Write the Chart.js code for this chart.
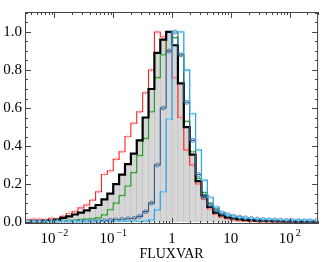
<!DOCTYPE html>
<html>
<head>
<meta charset="utf-8">
<script src="https://cdn.jsdelivr.net/npm/chart.js@4.4.1/dist/chart.umd.min.js"></script>
<style>
html,body{margin:0;padding:0;background:#fff;}
#wrap{width:323px;height:262px;}
</style>
</head>
<body>
<div id="wrap"><canvas id="c" width="323" height="262"></canvas></div>
<script>
// log10 of bin centres (bins of 0.1 dex)
const binCentersLog = [-2.45,-2.35,-2.25,-2.15,-2.05,-1.95,-1.85,-1.75,-1.65,-1.55,
  -1.45,-1.35,-1.25,-1.15,-1.05,-0.95,-0.85,-0.75,-0.65,-0.55,
  -0.45,-0.35,-0.25,-0.15,-0.05,0.05,0.15,0.25,0.35,0.45,
  0.55,0.65,0.75,0.85,0.95,1.05,1.15,1.25,1.35,1.45,
  1.55,1.65,1.75,1.85,1.95,2.05,2.15,2.25,2.35,2.45];

const redValues = [0.012,0.015,0.015,0.013,0.020,0.015,0.030,0.045,0.055,0.075,
  0.090,0.115,0.160,0.250,0.270,0.330,0.370,0.450,0.520,0.580,
  0.680,0.800,1.000,0.975,0.900,0.760,0.550,0.380,0.300,0.200,
  0.120,0.070,0.040,0.025,0.018,0.012,0.008,0.005,0.003,0.002,
  0.001,0.001,0.001,0.001,0.001,0.001,0.001,0.001,0.001,0.001];

const blackValues = [0.003,0.004,0.004,0.006,0.008,0.013,0.022,0.030,0.040,0.050,
  0.062,0.075,0.090,0.120,0.150,0.200,0.250,0.305,0.360,0.430,
  0.550,0.700,0.890,0.960,1.000,0.930,0.730,0.500,0.355,0.215,
  0.140,0.080,0.050,0.035,0.025,0.020,0.015,0.012,0.010,0.008,
  0.007,0.006,0.005,0.005,0.004,0.004,0.003,0.003,0.003,0.002];

const grayValues = blackValues;

const greenValues = [0.002,0.002,0.002,0.003,0.003,0.004,0.005,0.007,0.010,0.013,
  0.016,0.018,0.022,0.038,0.065,0.100,0.140,0.190,0.260,0.350,
  0.440,0.580,0.760,0.880,1.000,0.970,0.880,0.530,0.370,0.230,
  0.155,0.100,0.070,0.048,0.036,0.028,0.022,0.017,0.014,0.012,
  0.010,0.009,0.008,0.007,0.006,0.005,0.005,0.004,0.004,0.003];

const navyValues = [0.003,0.003,0.003,0.003,0.003,0.003,0.003,0.003,0.003,0.004,
  0.004,0.005,0.006,0.008,0.010,0.012,0.015,0.018,0.020,0.030,
  0.055,0.100,0.300,0.600,0.900,1.000,0.880,0.630,0.430,0.250,
  0.130,0.090,0.063,0.047,0.038,0.030,0.026,0.022,0.019,0.016,
  0.014,0.012,0.011,0.010,0.009,0.008,0.008,0.007,0.007,0.006];

const cyanValues = [0.004,0.004,0.004,0.004,0.004,0.004,0.004,0.004,0.004,0.004,
  0.004,0.004,0.004,0.004,0.004,0.004,0.004,0.004,0.004,0.004,
  0.005,0.012,0.065,0.160,0.540,1.000,1.000,0.800,0.570,0.380,
  0.220,0.130,0.080,0.052,0.038,0.030,0.026,0.023,0.020,0.018,
  0.016,0.015,0.014,0.013,0.012,0.012,0.011,0.011,0.010,0.010];

const xTickDecades = [-2,-1,0,1,2];
const xTickLabels = [["10","\u22122"],["10","\u22121"],["1",""],["10",""],["10","2"]];
const yTickValues = [0,0.2,0.4,0.6,0.8,1.0];

const pts = arr => arr.map((v,i)=>({x: Math.pow(10, binCentersLog[i]), y: v}));

function lineDs(values, color, width, style, ptColor, radius, order){
  return {
    type:'line', data: pts(values), borderColor: color, borderWidth: width,
    stepped:'middle', fill:false, tension:0,
    pointStyle: style || 'circle', pointRadius: style ? radius : 0,
    pointBorderColor: ptColor || color, pointBackgroundColor: 'rgba(0,0,0,0)',
    pointBorderWidth: 0.9, order: order
  };
}

const serif = "'Liberation Serif','Times New Roman',serif";

const axesPlugin = {
  id:'axesPlugin',
  afterDraw(chart){
    const ctx = chart.ctx, a = chart.chartArea;
    const xs = chart.scales.x, ys = chart.scales.y;
    ctx.save();
    ctx.strokeStyle = '#444';
    ctx.lineWidth = 1;
    ctx.strokeRect(a.left+0.5, a.top+0.5, a.right-a.left-1, a.bottom-a.top-1);
    ctx.beginPath();
    for (let d=-3; d<=2; d++){
      for (let k=1;k<=9;k++){
        const v = k*Math.pow(10,d);
        if (v < xs.min || v > xs.max) continue;
        const px = Math.round(xs.getPixelForValue(v))+0.5;
        const len = k===1 ? 6 : 3;
        ctx.moveTo(px, a.bottom); ctx.lineTo(px, a.bottom-len);
        ctx.moveTo(px, a.top); ctx.lineTo(px, a.top+len);
      }
    }
    for (let j=0;j<=22;j++){
      const v = j*0.05;
      if (v > ys.max) continue;
      const py = Math.round(ys.getPixelForValue(v))+0.5;
      const len = (j%4===0) ? 6 : 3;
      ctx.moveTo(a.left, py); ctx.lineTo(a.left+len, py);
      ctx.moveTo(a.right, py); ctx.lineTo(a.right-len, py);
    }
    ctx.stroke();
    ctx.fillStyle = '#000';
    ctx.textBaseline = 'alphabetic';
    ctx.textAlign = 'left';
    xTickDecades.forEach((d,i)=>{
      const px = xs.getPixelForValue(Math.pow(10,d));
      const [base, sup] = xTickLabels[i];
      ctx.font = '15px ' + serif;
      const wb = ctx.measureText(base).width;
      ctx.font = '10px ' + serif;
      const ws = sup ? ctx.measureText(sup).width + 2 : 0;
      const x0 = px - (wb + ws)/2;
      ctx.font = '15px ' + serif;
      ctx.fillText(base, x0, 243);
      if (sup){ ctx.font = '10px ' + serif; ctx.fillText(sup, x0 + wb + 2, 236); }
    });
    ctx.font = '14px ' + serif;
    ctx.textAlign = 'center';
    ctx.fillText('FLUXVAR', (a.left+a.right)/2, 258);
    ctx.restore();
  }
};

new Chart(document.getElementById('c'), {
  type:'line',
  data:{ datasets:[
    { type:'bar', data: pts(grayValues), backgroundColor:'#d6d6d6', borderColor:'#bdbdbd',
      borderWidth:{left:0.6,right:0.6,top:0,bottom:0}, barPercentage:1, categoryPercentage:1, order:10 },
    lineDs(redValues, '#ff2020', 1.1, 'cross', '#ff9a9a', 2, 5),
    lineDs(greenValues, '#1f9a1f', 1.1, 'crossRot', '#7acb7a', 2, 4),
    lineDs(blackValues, '#000000', 2.2, null, null, 0, 3),
    lineDs(navyValues, '#2c5a8c', 1.1, 'circle', '#4a74a0', 2, 2),
    lineDs(cyanValues, '#2aa6e8', 1.3, 'cross', '#8fd2f4', 2, 1)
  ]},
  options:{
    responsive:false, animation:false,
    layout:{ padding:{ top:2, right:4, left:0, bottom:0 } },
    plugins:{ legend:{display:false}, tooltip:{enabled:false}, title:{display:false} },
    scales:{
      x:{ type:'logarithmic', min: Math.pow(10,-2.5), max: Math.pow(10,2.483),
          grid:{display:false, drawTicks:false}, border:{display:false},
          ticks:{display:false},
          afterBuildTicks: s => { s.ticks = xTickDecades.map(d => ({value: Math.pow(10,d)})); },
          afterFit: s => { s.height = 38; } },
      y:{ type:'linear', min:-0.01, max:1.105,
          grid:{display:false, drawTicks:false}, border:{display:false},
          ticks:{ color:'#000', padding:3, autoSkip:false, font:{family:serif, size:15},
                  callback: v => Number(v).toFixed(1) },
          afterBuildTicks: s => { s.ticks = yTickValues.map(v => ({value:v})); },
          afterFit: s => { s.width = 25; } }
    }
  },
  plugins:[axesPlugin]
});
</script>
</body>
</html>
